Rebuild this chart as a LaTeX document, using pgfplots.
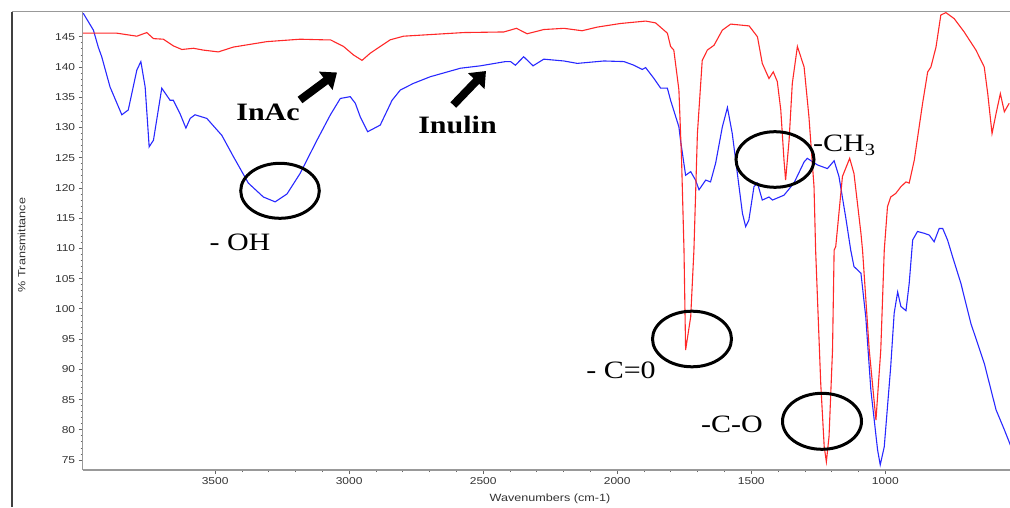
\documentclass[border=0pt]{standalone}
\usepackage{pgfplots}
\pgfplotsset{compat=1.18}
\usepackage{fontspec}
\usetikzlibrary{arrows.meta}
\newfontfamily\sans{Liberation Sans}[FakeStretch=1.2]
\newfontfamily\serifx{Liberation Serif}[FakeStretch=1.2]
\definecolor{ired}{RGB}{255,40,40}
\definecolor{iblue}{RGB}{40,40,255}
\begin{document}
\begin{tikzpicture}
\useasboundingbox (0pt,0pt) rectangle (1010pt,507pt);
\begin{axis}[
  at={(82.7pt,37pt)}, anchor=south west,
  width=927.3pt, height=458.3pt, scale only axis,
  x dir=reverse, xmin=535, xmax=3994, ymin=73.35, ymax=149.15,
  axis x line*=bottom, axis y line*=left,
  xtick={1000,1500,2000,2500,3000,3500},
  ytick={75,80,...,145},
  minor x tick num=4, minor y tick num=4,
  tick align=outside,
  major tick length=4pt, minor tick length=2pt,
  axis line style={black!40, line width=1.2pt},
  every tick/.style={black!60, line width=0.8pt},
  tick label style={font=\sans\fontsize{10}{12}\selectfont, text=black!80},
  /pgf/number format/assume math mode=true,
  /pgf/number format/1000 sep={},
  xlabel={Wavenumbers (cm-1)},
  ylabel={\% Transmittance},
  x label style={font=\sans\fontsize{10.5}{12}\selectfont, text=black!80, at={(axis description cs:0.504,0)}, anchor=center, yshift=-29pt},
  y label style={font=\sans\fontsize{10.5}{12}\selectfont, text=black!80, at={(axis description cs:-0.0658,0.491)}, anchor=center},
  clip=true,
]
\addplot[iblue, line width=1.1pt] coordinates {
(3992,148.9) (3954,146.1) (3936,143.3) (3923,141.7) (3892,136.7) (3848,132.1)
(3824,132.9) (3792,139.5) (3777,140.9) (3761,136.7) (3746,126.8) (3730,127.9)
(3699,136.5) (3668,134.5) (3656,134.5) (3631,132.3) (3609,129.9) (3593,131.5)
(3575,132.1) (3531,131.5) (3475,128.7) (3432,125.2) (3376,120.8) (3320,118.5)
(3276,117.7) (3232,119.0) (3183,122.4) (3120,127.9) (3070,132.1) (3033,134.8)
(2996,135.1) (2977,134.0) (2959,131.8) (2931,129.3) (2884,130.4) (2840,134.5)
(2809,136.2) (2760,137.3) (2697,138.4) (2585,139.8) (2510,140.2) (2417,140.9)
(2398,140.9) (2380,140.3) (2349,141.7) (2314,140.2) (2274,141.3) (2199,141.0)
(2149,140.6) (2050,141.0) (1975,140.9) (1938,140.3) (1907,139.6) (1894,139.9)
(1863,138.1) (1838,136.5) (1813,136.5) (1801,134.5) (1770,130.1) (1764,127.9)
(1745,122.1) (1726,122.7) (1708,121.3) (1695,119.7) (1670,121.3) (1652,121.0)
(1633,124.1) (1608,130.1) (1589,133.3) (1571,129.0) (1552,122.4) (1533,115.8)
(1521,113.6) (1509,114.7) (1490,120.2) (1477,120.8) (1459,118.0) (1434,118.5)
(1421,118.0) (1378,118.8) (1341,120.8) (1303,124.3) (1291,124.9) (1253,123.8)
(1216,123.2) (1191,124.5) (1173,121.9) (1148,115.2) (1129,109.7) (1117,107.0)
(1091,105.9) (1073,98.7) (1054,86.6) (1029,76.7) (1019,74.2) (1004,77.2)
(980,90.4) (967,99.3) (954,102.8) (942,100.4) (923,99.7) (911,104.2)
(898,111.4) (880,112.8) (855,112.5) (836,112.2) (818,111.1) (799,113.3)
(786,113.3) (768,111.4) (749,108.6) (718,104.2) (681,97.6) (631,91.0)
(587,83.3) (556,80.0) (531,77.2)
};
\addplot[ired, line width=1.1pt] coordinates {
(3992,145.6) (3867,145.6) (3792,145.1) (3755,145.7) (3730,144.7) (3693,144.6)
(3656,143.5) (3624,142.9) (3581,143.1) (3544,142.8) (3488,142.5) (3432,143.3)
(3307,144.2) (3183,144.6) (3096,144.5) (3070,144.5) (3021,143.4) (2984,142.0)
(2952,141.1) (2921,142.3) (2884,143.4) (2847,144.5) (2797,145.1) (2573,145.7)
(2423,145.8) (2376,146.4) (2336,145.5) (2274,146.2) (2199,146.4) (2131,146.0)
(2075,146.6) (1988,147.2) (1894,147.6) (1857,147.3) (1826,146.1) (1813,145.6)
(1801,143.4) (1789,142.8) (1770,136.2) (1760,124.6) (1751,109.7) (1745,93.2)
(1726,98.7) (1714,109.7) (1701,129.0) (1683,141.1) (1664,142.8) (1639,143.6)
(1608,146.1) (1577,147.1) (1508,146.8) (1477,145.0) (1459,140.6) (1434,138.1)
(1418,139.2) (1403,137.6) (1390,132.9) (1378,124.6) (1372,121.3) (1359,127.9)
(1347,137.3) (1328,143.4) (1303,140.0) (1285,131.8) (1266,120.2) (1260,109.7)
(1241,87.7) (1228,77.2) (1220,74.7) (1210,78.9) (1197,93.2) (1191,109.7)
(1185,110.3) (1160,121.9) (1133,124.9) (1117,122.4) (1091,112.5) (1085,109.7)
(1060,93.2) (1035,81.6) (1017,93.2) (1004,109.7) (992,116.9) (980,118.5)
(961,119.1) (942,120.2) (923,121.0) (911,120.8) (892,124.6) (861,134.0)
(842,139.2) (830,140.0) (811,143.3) (793,148.6) (774,149.0) (743,148.0)
(706,145.8) (662,142.8) (631,140.0) (618,135.6) (602,129.0) (587,132.3)
(571,135.6) (556,132.6) (538,134.0)
};
\end{axis}
% window frame
\draw[black!75, line width=2pt] (11.7pt,0pt) -- (11.7pt,495.3pt);
\draw[black!40, line width=1pt] (11.7pt,495.3pt) -- (1010pt,495.3pt);
% annotations
\draw[line width=3pt] (280pt,316.2pt) ellipse [x radius=39.3pt, y radius=27.5pt];
\draw[line width=3pt] (775pt,347.5pt) ellipse [x radius=39pt, y radius=27.8pt];
\draw[line width=3pt] (692pt,168pt) ellipse [x radius=39.5pt, y radius=27.8pt];
\draw[line width=3pt] (822pt,85.7pt) ellipse [x radius=39.5pt, y radius=28pt];
\draw[line width=8pt, -{Triangle[length=14pt,width=22pt]}] (300pt,407pt) -- (337pt,434.5pt);
\draw[line width=8pt, -{Triangle[length=14pt,width=22pt]}] (453.3pt,402pt) -- (486pt,436pt);
\node[font=\serifx\bfseries\fontsize{25}{25}\selectfont] at (268pt,395pt) {InAc};
\node[font=\serifx\bfseries\fontsize{25}{25}\selectfont] at (457.5pt,382pt) {Inulin};
\node[font=\serifx\fontsize{25}{25}\selectfont] at (240pt,265pt) {- OH};
\node[font=\serifx\fontsize{25}{25}\selectfont] at (621pt,137pt) {- C=0};
\node[font=\serifx\fontsize{25}{25}\selectfont] at (732pt,83pt) {-C-O};
\node[font=\serifx\fontsize{25}{25}\selectfont, anchor=west, inner sep=0pt] at (813pt,362pt) {-CH\raisebox{-0.35ex}{\fontsize{17}{17}\selectfont 3}};
\end{tikzpicture}
\end{document}
